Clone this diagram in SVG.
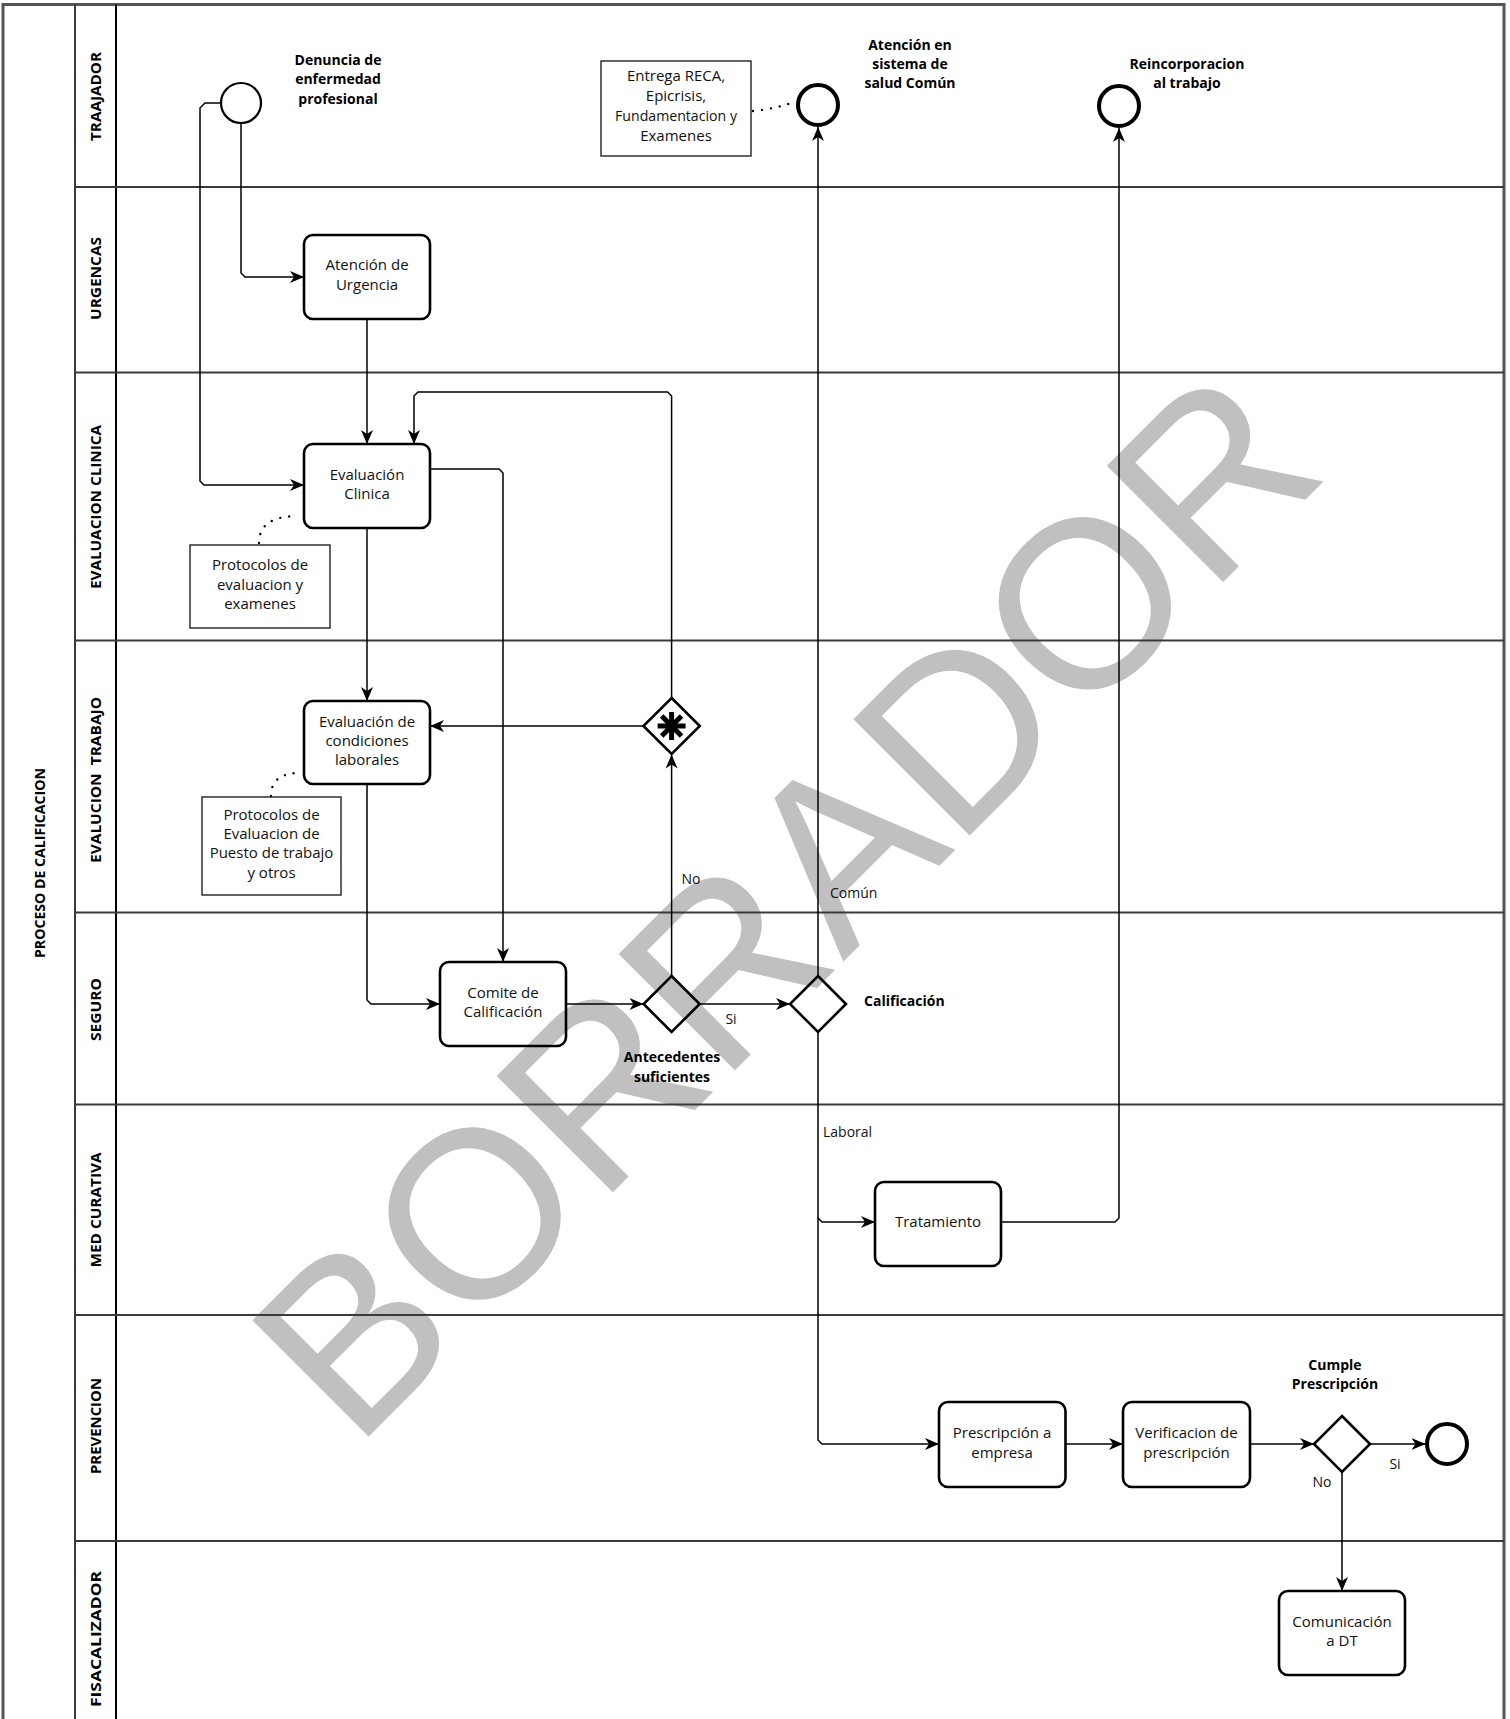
<svg xmlns="http://www.w3.org/2000/svg" width="1510" height="1719" viewBox="0 0 1510 1719">
<style>
.lane{stroke:#3a3a3a;stroke-width:2;fill:none}
.task{fill:none;stroke:#000;stroke-width:2.6}
.note{fill:none;stroke:#222;stroke-width:1.4}
.gw{fill:none;stroke:#000;stroke-width:2.6}
.ev{fill:none;stroke:#000;stroke-width:2.2}
.evend{fill:none;stroke:#000;stroke-width:4}
.txt{font-family:"Open Sans","Noto Sans",sans-serif;font-size:15px;text-anchor:middle;fill:#111}
.lbl{font-family:"Open Sans","Noto Sans",sans-serif;font-weight:bold;font-size:14px;text-anchor:middle;fill:#000}
.lbl-start{text-anchor:start}
.elab{font-family:"Open Sans","Noto Sans",sans-serif;font-size:14px;fill:#111}
.mid{text-anchor:middle}
.lanelab{font-family:"Open Sans","Liberation Sans",sans-serif;font-weight:bold;font-size:14px;text-anchor:middle;fill:#000}
.edge{stroke:#000;stroke-width:1.5;fill:none;marker-end:url(#arr)}
.assoc{stroke:#000;stroke-width:2.4;fill:none;stroke-dasharray:0 9;stroke-linecap:round}
.wm{font-family:"Liberation Sans",Arial,sans-serif;font-size:239px;fill:#c0c0c0;text-anchor:middle}
</style>
<defs>
<marker id="arr" markerWidth="16" markerHeight="14" refX="14" refY="7" orient="auto" markerUnits="userSpaceOnUse" viewBox="0 0 16 14">
<path d="M0,1 L14,7 L0,13 L4,7 Z" fill="#000"/>
</marker>
</defs>
<rect width="1510" height="1719" fill="#fff"/>
<!-- watermark -->
<text class="wm" transform="translate(843,962) rotate(-45)">BORRADOR</text>
<!-- pool and lanes -->
<g id="pool">
<path d="M3,1730 V4.5 H1504 V1730" fill="none" stroke="#555" stroke-width="3"/>
<line class="lane" x1="75" y1="4.5" x2="75" y2="1730"/>
<line x1="116" y1="4.5" x2="116" y2="1730" stroke="#000" stroke-width="2"/>
<line class="lane" x1="75" y1="187" x2="1504" y2="187"/>
<line class="lane" x1="75" y1="372.5" x2="1504" y2="372.5"/>
<line class="lane" x1="75" y1="640.5" x2="1504" y2="640.5"/>
<line class="lane" x1="75" y1="912.5" x2="1504" y2="912.5"/>
<line class="lane" x1="75" y1="1104.5" x2="1504" y2="1104.5"/>
<line class="lane" x1="75" y1="1315" x2="1504" y2="1315"/>
<line class="lane" x1="75" y1="1541" x2="1504" y2="1541"/>
<text class="lanelab" transform="translate(39.5,863) rotate(-90)" y="5" textLength="190" lengthAdjust="spacingAndGlyphs">PROCESO DE CALIFICACION</text>
<text class="lanelab" transform="translate(95.5,96.5) rotate(-90)" y="5" textLength="89" lengthAdjust="spacingAndGlyphs">TRAAJADOR</text>
<text class="lanelab" transform="translate(95.5,278.5) rotate(-90)" y="5" textLength="83" lengthAdjust="spacingAndGlyphs">URGENCAS</text>
<text class="lanelab" transform="translate(95.5,507) rotate(-90)" y="5" textLength="164" lengthAdjust="spacingAndGlyphs">EVALUACION CLINICA</text>
<text class="lanelab" transform="translate(95.5,780) rotate(-90)" y="5" textLength="166" lengthAdjust="spacingAndGlyphs" xml:space="preserve">EVALUCION  TRABAJO</text>
<text class="lanelab" transform="translate(95.5,1009.5) rotate(-90)" y="5" textLength="63" lengthAdjust="spacingAndGlyphs">SEGURO</text>
<text class="lanelab" transform="translate(95.5,1210) rotate(-90)" y="5" textLength="115" lengthAdjust="spacingAndGlyphs">MED CURATIVA</text>
<text class="lanelab" transform="translate(95.5,1426) rotate(-90)" y="5" textLength="96" lengthAdjust="spacingAndGlyphs">PREVENCION</text>
<text class="lanelab" transform="translate(95.5,1639) rotate(-90)" y="5" textLength="136" lengthAdjust="spacingAndGlyphs">FISACALIZADOR</text>
</g>
<!-- connectors -->
<g id="connectors">
<path class="edge" d="M241,123 V273 L245,277 H304"/>
<path class="edge" d="M220.5,103 H205 L200,108 V481 L204,485 H304"/>
<path class="edge" d="M367,319 V444"/>
<path class="edge" d="M367,528 V701"/>
<path class="edge" d="M430,469 H499 L503,473 V962"/>
<path class="edge" d="M367,784 V1000 L371,1004 H440"/>
<path class="edge" d="M566,1004 H643.5"/>
<path class="edge" d="M699.5,1004 H790"/>
<path class="edge" d="M671.6,976 V754.5"/>
<path class="edge" d="M643.5,726 H430"/>
<path class="edge" d="M671.6,698 V396 L667.6,392 H418 L414,396 V444"/>
<path class="edge" d="M818,976 V127"/>
<path class="edge" d="M818,1032 V1440 L822,1444 H939"/>
<path class="edge" d="M818,1218 L822,1222 H875"/>
<path class="edge" d="M1001,1222 H1115 L1119,1218 V128"/>
<path class="edge" d="M1065.5,1444 H1123"/>
<path class="edge" d="M1250,1444 H1314"/>
<path class="edge" d="M1370,1444 H1425.5"/>
<path class="edge" d="M1342,1472 V1591"/>
<path class="assoc" d="M753,111 Q780,108 796,101"/>
<path class="assoc" d="M259,543 Q259,516 298,516"/>
<path class="assoc" d="M271,796 Q271,773 300,773"/>
<text class="elab mid" x="691" y="884">No</text>
<text class="elab" x="830" y="898">Común</text>
<text class="elab mid" x="731" y="1024">Si</text>
<text class="elab" x="823" y="1137">Laboral</text>
<text class="elab mid" x="1395" y="1469">Si</text>
<text class="elab mid" x="1322" y="1487">No</text>
</g>
<!-- nodes -->
<g id="start">
<circle class="ev" cx="241" cy="103" r="20"/>
<text class="lbl"><tspan x="338" y="65">Denuncia de</tspan><tspan x="338" y="84">enfermedad</tspan><tspan x="338" y="104">profesional</tspan></text>
</g>
<g id="entrega">
<rect class="note" x="601" y="61" width="150" height="95"/>
<text class="txt"><tspan x="676" y="81">Entrega RECA,</tspan><tspan x="676" y="101">Epicrisis,</tspan><tspan x="676" y="121" textLength="122" lengthAdjust="spacingAndGlyphs">Fundamentacion y</tspan><tspan x="676" y="141">Examenes</tspan></text>
</g>
<g id="end-atencion">
<circle class="evend" cx="818" cy="105" r="20"/>
<text class="lbl"><tspan x="910" y="50">Atención en</tspan><tspan x="910" y="69">sistema de</tspan><tspan x="910" y="88">salud Común</tspan></text>
</g>
<g id="end-reincorporacion">
<circle class="evend" cx="1119" cy="106" r="20"/>
<text class="lbl"><tspan x="1187" y="69">Reincorporacion</tspan><tspan x="1187" y="88">al trabajo</tspan></text>
</g>
<g id="urgencia">
<rect class="task" x="304" y="235" width="126" height="84" rx="9"/>
<text class="txt"><tspan x="367" y="270">Atención de</tspan><tspan x="367" y="290">Urgencia</tspan></text>
</g>
<g id="eval-clinica">
<rect class="task" x="304" y="444" width="126" height="84" rx="9"/>
<text class="txt"><tspan x="367" y="480">Evaluación</tspan><tspan x="367" y="499">Clinica</tspan></text>
</g>
<g id="protocolos-clinica">
<rect class="note" x="190" y="545" width="140" height="83"/>
<text class="txt"><tspan x="260" y="570">Protocolos de</tspan><tspan x="260" y="590">evaluacion y</tspan><tspan x="260" y="609">examenes</tspan></text>
</g>
<g id="eval-condiciones">
<rect class="task" x="304" y="701" width="126" height="83" rx="9"/>
<text class="txt"><tspan x="367" y="727">Evaluación de</tspan><tspan x="367" y="746">condiciones</tspan><tspan x="367" y="765">laborales</tspan></text>
</g>
<g id="protocolos-puesto">
<rect class="note" x="202" y="797" width="139" height="98"/>
<text class="txt"><tspan x="271.5" y="820">Protocolos de</tspan><tspan x="271.5" y="839">Evaluacion de</tspan><tspan x="271.5" y="858">Puesto de trabajo</tspan><tspan x="271.5" y="878">y otros</tspan></text>
</g>
<g id="gw-complex">
<path class="gw" d="M671.6,698 L699.8,726 L671.6,754 L643.4,726 Z"/>
<g stroke="#000" stroke-width="5" stroke-linecap="butt">
<line x1="671.6" y1="712" x2="671.6" y2="740"/>
<line x1="657.6" y1="726" x2="685.6" y2="726"/>
<line x1="661.7" y1="716.1" x2="681.5" y2="735.9"/>
<line x1="661.7" y1="735.9" x2="681.5" y2="716.1"/>
</g>
</g>
<g id="comite">
<rect class="task" x="440" y="962" width="126" height="84" rx="9"/>
<text class="txt"><tspan x="503" y="998">Comite de</tspan><tspan x="503" y="1017">Calificación</tspan></text>
</g>
<g id="gw-antecedentes">
<path class="gw" d="M671.6,976 L699.6,1004 L671.6,1032 L643.6,1004 Z"/>
<text class="lbl"><tspan x="672" y="1062">Antecedentes</tspan><tspan x="672" y="1082">suficientes</tspan></text>
</g>
<g id="gw-calificacion">
<path class="gw" d="M818,976 L846,1004 L818,1032 L790,1004 Z"/>
<text class="lbl lbl-start" x="864" y="1006">Calificación</text>
</g>
<g id="tratamiento">
<rect class="task" x="875" y="1182" width="126" height="84" rx="9"/>
<text class="txt" x="938" y="1227">Tratamiento</text>
</g>
<g id="prescripcion">
<rect class="task" x="939" y="1402" width="126.5" height="85" rx="9"/>
<text class="txt"><tspan x="1002" y="1438">Prescripción a</tspan><tspan x="1002" y="1458">empresa</tspan></text>
</g>
<g id="verificacion">
<rect class="task" x="1123" y="1402" width="127" height="85" rx="9"/>
<text class="txt"><tspan x="1186.5" y="1438">Verificacion de</tspan><tspan x="1186.5" y="1458">prescripción</tspan></text>
</g>
<g id="gw-cumple">
<path class="gw" d="M1342,1416 L1370,1444 L1342,1472 L1314,1444 Z"/>
<text class="lbl"><tspan x="1335" y="1370">Cumple</tspan><tspan x="1335" y="1389">Prescripción</tspan></text>
</g>
<g id="end-final">
<circle class="evend" cx="1447" cy="1444" r="20"/>
</g>
<g id="comunicacion">
<rect class="task" x="1279" y="1591" width="126" height="84" rx="9"/>
<text class="txt"><tspan x="1342" y="1627">Comunicación</tspan><tspan x="1342" y="1646">a DT</tspan></text>
</g>
</svg>
